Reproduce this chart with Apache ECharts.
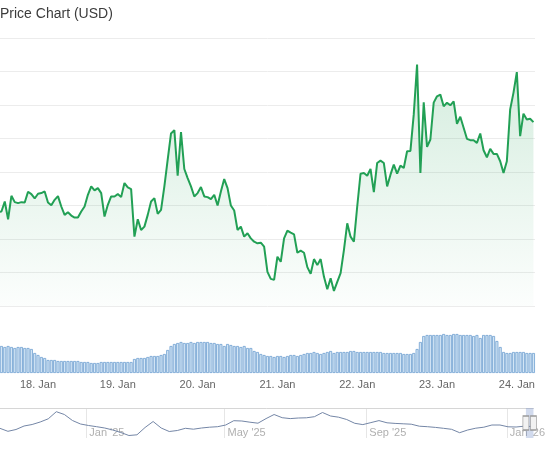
<!DOCTYPE html>
<html><head><meta charset="utf-8">
<script src="https://cdn.jsdelivr.net/npm/echarts@6/dist/echarts.min.js"></script>
<style>html,body{margin:0;padding:0;background:#fff}#c{width:548px;height:450px}</style>
</head><body><div id="c"></div>
<script>
const HOUR = 3600000;
const DAY = 86400000;
// hourly series, first point 17 Jan 2026 12:00 UTC
const startTime = Date.UTC(2026, 0, 17, 12, 0);

const priceValues = [
 2.81,2.82,3.12,2.59,3.29,3.10,3.07,3.10,3.09,3.41,
 3.34,3.21,3.35,3.37,3.42,3.09,3.01,3.17,3.28,2.97,
 2.72,2.80,2.70,2.64,2.64,2.82,2.97,3.32,3.57,3.45,
 3.52,3.37,2.67,3.02,3.27,3.27,3.34,3.25,3.67,3.54,
 3.49,2.07,2.59,2.27,2.37,2.72,3.12,3.22,2.75,2.87,
 3.57,4.37,5.15,5.25,3.89,5.19,4.09,3.82,3.57,3.27,
 3.37,3.55,3.27,3.25,3.19,3.32,3.00,3.42,3.79,3.52,
 3.00,2.85,2.27,2.37,2.07,2.17,2.02,1.92,1.87,1.89,
 1.77,1.02,0.81,0.78,1.47,1.32,2.02,2.25,2.19,2.14,
 1.59,1.65,1.59,1.16,0.96,1.40,1.22,1.40,0.87,0.50,
 0.83,0.45,0.72,0.98,1.67,2.47,2.07,1.92,2.97,3.95,
 3.97,3.89,4.09,3.40,4.27,4.34,4.27,3.57,3.92,4.22,
 3.95,4.19,4.12,4.62,4.63,5.72,7.21,3.97,6.08,4.75,
 4.97,6.07,6.26,6.31,5.96,6.07,5.99,6.11,5.44,5.65,
 5.32,4.99,4.95,4.95,4.87,5.15,4.65,4.44,4.69,4.54,
 4.54,4.32,3.97,4.32,5.87,6.37,6.98,5.07,5.74,5.57,
 5.59,5.49
];

const volumeValues = [
 26,27,26,27,26,25,26,26,25,25,
 24,20,18,16,15,
 13,13,13,12,12,12,12,12,12,12,11,11,11,
 10,10,10,11,11,11,11,11,11,11,11,11,11,
 14,15,15,15,16,17,17,17,18,19,
 23,27,29,30,31,
 30,30,31,30,31,31,31,31,30,30,29,
 29,27,29,28,27,27,26,27,25,25,
 22,21,19,18,17,
 17,16,17,17,16,17,18,18,17,18,19,
 20,20,21,20,19,20,21,22,20,21,
 21,21,21,22,22,21,21,21,21,21,
 21,21,21,20,20,20,20,20,20,19,
 19,19,20,
 24,31,37,
 38,38,38,38,38,39,38,38,39,39,
 38,38,38,38,37,38,35,38,38,38,37,
 32,26,21,20,
 20,21,21,21,21,20,20,20
];

const dayTicks = [18,19,20,21,22,23,24].map(d => Date.UTC(2026, 0, d));
const dayLabels = ['18. Jan','19. Jan','20. Jan','21. Jan','22. Jan','23. Jan','24. Jan'];

// navigator: weekly points from 18 Oct 2024
const navStart = Date.UTC(2024, 9, 18);
const navValues = [
 9.7,6.7,8.5,12,13.5,16,19.2,26.3,23.5,17.5,
 14,12.5,11.3,10,8,5.5,2.5,3.2,10.5,16.5,
 10,6.5,7.5,9.7,8.8,10,10.8,11.3,13,17.3,
 17,15.8,14.8,19.4,23.5,20.3,19.4,20,20.2,21.3,
 25.5,22,20.8,18.5,14.7,13.4,15.4,17.4,15.2,14.6,
 14.2,13.8,11.8,11.3,10.6,9.7,8.7,5.3,8,9.8,
 10.8,13,13,11.2,11,11.8,11.5
];
const navTicks = [Date.UTC(2025,0,1), Date.UTC(2025,4,1), Date.UTC(2025,8,1), Date.UTC(2026,0,1)];
const navLabels = ["Jan '25", "May '25", "Sep '25", "Jan '26"];

const mainMin = Date.UTC(2026, 0, 17, 12, 34);
const mainMax = Date.UTC(2026, 0, 24, 5, 28);
const navMin = Date.UTC(2024, 9, 18, 3, 0);
const navMax = Date.UTC(2026, 0, 24, 1, 30);

const times = priceValues.map((_, i) => startTime + i * HOUR);
const priceData = times.map((t, i) => [t, priceValues[i]]);
const volumeData = times.map((t, i) => [t, volumeValues[i]]);
const navData = navValues.map((v, i) => [navStart + i * 7 * DAY, v]);

const FONT = "'Liberation Sans', Arial, Helvetica, sans-serif";
const chart = echarts.init(document.getElementById('c'), null, {renderer: 'canvas'});
chart.setOption({
  animation: false,
  backgroundColor: '#ffffff',
  title: {
    text: 'Price Chart (USD)', left: 0, top: 7, padding: 0,
    textStyle: {fontFamily: FONT, fontSize: 14, fontWeight: 'normal', color: '#3c3c3c'}
  },
  grid: [
    {left: 0, right: 13, top: 38, height: 268},
    {left: 0, right: 13, top: 328, height: 45},
    {left: 0, right: 12, top: 408, height: 30}
  ],
  xAxis: [
    {type: 'value', gridIndex: 0, min: mainMin, max: mainMax,
     axisLine: {show: false}, axisTick: {show: false}, axisLabel: {show: false}, splitLine: {show: false}},
    {type: 'value', gridIndex: 1, min: mainMin, max: mainMax,
     axisLine: {show: false}, axisTick: {show: false}, splitLine: {show: false},
     axisLabel: {customValues: dayTicks, margin: 6, color: '#666666', fontSize: 11, fontFamily: FONT,
       formatter: v => dayLabels[dayTicks.indexOf(+v)] || ''}},
    {type: 'value', gridIndex: 2, min: navMin, max: navMax,
     axisLine: {show: false}, axisTick: {show: false, customValues: navTicks},
     splitLine: {show: true, lineStyle: {color: '#e6e6e6', width: 1}},
     axisLabel: {customValues: navTicks, inside: true, align: 'left', margin: 0, padding: [0,0,0,3],
       color: '#b0b0b0', fontSize: 11, fontFamily: FONT,
       formatter: v => navLabels[navTicks.indexOf(+v)] || ''}},
    {type: 'value', gridIndex: 2, position: 'top', min: navMin, max: navMax,
     axisLine: {show: true, lineStyle: {color: '#d6d6d6', width: 1}}, axisTick: {show: false},
     axisLabel: {show: false}, splitLine: {show: false}}
  ],
  yAxis: [
    {type: 'value', gridIndex: 0, min: 0, max: 8, interval: 1,
     axisLine: {show: false}, axisTick: {show: false}, axisLabel: {show: false},
     splitLine: {lineStyle: {color: '#ececec', width: 1}}},
    {type: 'value', gridIndex: 1, min: 0, max: 45,
     axisLine: {show: false}, axisTick: {show: false}, axisLabel: {show: false}, splitLine: {show: false}},
    {type: 'value', gridIndex: 2, min: 0, max: 30,
     axisLine: {show: false}, axisTick: {show: false}, axisLabel: {show: false}, splitLine: {show: false}}
  ],
  series: [
    {type: 'line', xAxisIndex: 0, yAxisIndex: 0, data: priceData, showSymbol: false, symbol: 'none',
     lineStyle: {color: '#22a055', width: 2}, itemStyle: {color: '#22a055'},
     areaStyle: {color: new echarts.graphic.LinearGradient(0, 38, 0, 306, [
       {offset: 0, color: 'rgba(34,160,85,0.30)'}, {offset: 1, color: 'rgba(34,160,85,0.02)'}], true)}},
    {type: 'bar', xAxisIndex: 1, yAxisIndex: 1, data: volumeData, barWidth: 3,
     itemStyle: {color: '#d3e5f5', borderColor: '#6f9fd0', borderWidth: 0.8}},
    {type: 'line', xAxisIndex: 2, yAxisIndex: 2, data: navData, showSymbol: false, symbol: 'none',
     lineStyle: {color: '#7486a6', width: 1}, itemStyle: {color: '#7486a6'},
     markArea: {silent: true, itemStyle: {color: 'rgba(102,133,194,0.3)'},
       data: [[{xAxis: mainMin, yAxis: 0}, {xAxis: navMax, yAxis: 30}]]},
     markPoint: {silent: true, symbol: 'rect', symbolSize: [6, 14], label: {show: false},
       itemStyle: {color: '#f2f2f2', borderColor: '#999999', borderWidth: 1},
       data: [{coord: [mainMin, 15]}, {coord: [navMax, 15]}]}}
  ]
});
</script></body></html>
